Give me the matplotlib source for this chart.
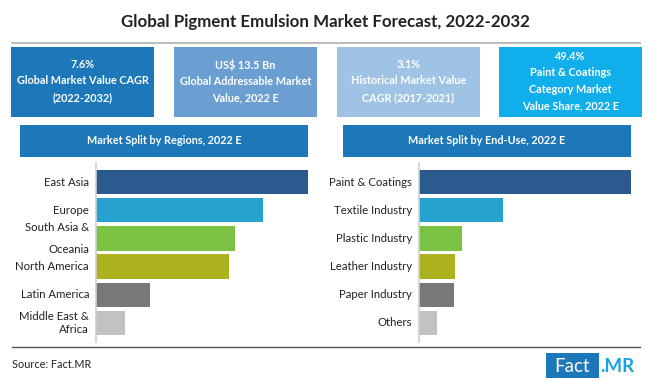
import matplotlib.pyplot as plt
from matplotlib.patches import Rectangle

plt.rcParams["font.family"] = ["Lato", "DejaVu Sans"]

TITLE = "Global Pigment Emulsion Market Forecast, 2022-2032"

KPI_TEXTS = [
    "7.6%\nGlobal Market Value CAGR\n(2022-2032)",
    "US$ 13.5 Bn\nGlobal Addressable Market\nValue, 2022 E",
    "3.1%\nHistorical Market Value\nCAGR (2017-2021)",
    "49.4%\nPaint & Coatings\nCategory Market\nValue Share, 2022 E",
]
KPI_COLORS = ["#1c78b8", "#6b9fd2", "#9fc3e4", "#10aeea"]

REGION_TITLE = "Market Split by Regions, 2022 E"
regions = ["East Asia", "Europe", "South Asia &\nOceania", "North America",
           "Latin America", "Middle East &\nAfrica"]
region_share = [28.9, 22.8, 19.0, 18.1, 7.3, 3.9]

ENDUSE_TITLE = "Market Split by End-Use, 2022 E"
end_uses = ["Paint & Coatings", "Textile Industry", "Plastic Industry",
            "Leather Industry", "Paper Industry", "Others"]
end_use_share = [49.4, 19.6, 10.1, 8.4, 8.2, 4.3]

BAR_COLORS = ["#2b5b8e", "#27a2cf", "#7cc242", "#abb21e", "#787878", "#c2c2c2"]
HEADER_COLOR = "#1c78b8"

W, H = 650, 381
fig = plt.figure(figsize=(W / 100, H / 100), dpi=100)

# overlay in pixel coordinates for boxes / text
ov = fig.add_axes([0, 0, 1, 1])
ov.set_xlim(0, W)
ov.set_ylim(H, 0)
ov.axis("off")

ov.text(325, 22, TITLE, ha="center", va="center", fontsize=12.2,
        fontweight="bold", color="#222222")
ov.plot([12, 640], [43, 43], color="#b0b0b0", lw=1.2)

# KPI boxes
box_x = [11, 174, 337, 499]
for x0, txt, c in zip(box_x, KPI_TEXTS, KPI_COLORS):
    ov.add_patch(Rectangle((x0, 47), 143, 70, color=c, lw=0))
    ov.text(x0 + 71.5, 81, txt, ha="center", va="center", color="white",
            fontsize=7.8, fontweight="bold", linespacing=1.6)

# section headers
for x0, x1, t in [(20, 308, REGION_TITLE), (343, 631, ENDUSE_TITLE)]:
    ov.add_patch(Rectangle((x0, 125), x1 - x0, 32, color=HEADER_COLOR, lw=0))
    ov.text((x0 + x1) / 2, 140, t, ha="center", va="center", color="white",
            fontsize=7.8, fontweight="bold")


def bar_panel(left_px, right_px, labels, values):
    ax = fig.add_axes([left_px / W, 1 - 342 / H, (right_px - left_px) / W, 179 / H])
    y = range(len(labels))
    ax.barh(y, values, height=0.86, color=BAR_COLORS)
    ax.set_ylim(len(labels) - 1 + 0.68, -0.68)
    ax.set_xlim(0, max(values))
    ax.set_yticks(list(y))
    ax.set_yticklabels(labels, fontsize=8.2, color="#222222", va="center")
    ax.tick_params(axis="y", length=0, pad=5)
    ax.set_xticks([])
    for s in ["top", "right", "bottom"]:
        ax.spines[s].set_visible(False)
    ax.spines["left"].set_color("#cfcfcf")
    ax.spines["left"].set_linewidth(1.2)
    ax.patch.set_alpha(0)
    return ax


ax1 = bar_panel(96, 308, regions, region_share)
ax1.get_yticklabels()[2].set_linespacing(2.3)
ax2 = bar_panel(419, 631, end_uses, end_use_share)

# footer
ov.plot([12, 640], [347, 347], color="#555555", lw=1.0)
ov.text(12, 365, "Source: Fact.MR", ha="left", va="center", fontsize=7.8,
        color="#222222")
ov.add_patch(Rectangle((546, 353), 53, 25, color="#1c78b8", lw=0))
ov.text(572, 366, "Fact", ha="center", va="center", color="white", fontsize=13.5)
ov.text(600, 366, ".MR", ha="left", va="center", color="#1aa3e0", fontsize=13.5,
        fontweight="bold")

fig.savefig("out.png", dpi=100)
